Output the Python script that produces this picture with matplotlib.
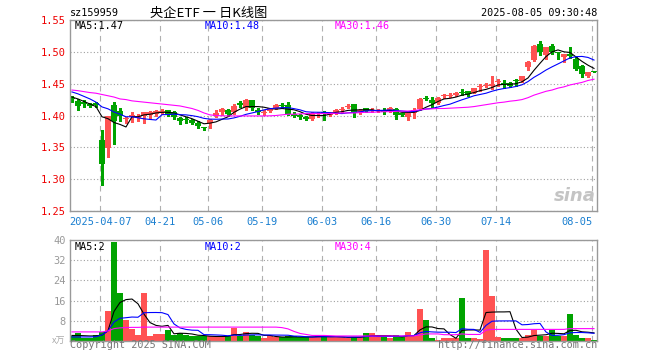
import numpy as np
import matplotlib
matplotlib.use('Agg')
import matplotlib.pyplot as plt

# 央企ETF (sz159959) daily K line, 2025-03-28 .. 2025-08-05 (88 trading days)
opens = [1.428, 1.423, 1.421, 1.418, 1.419, 1.361, 1.349, 1.417, 1.407, 1.394,
         1.397, 1.396, 1.3995, 1.401, 1.402, 1.405, 1.408, 1.405, 1.396, 1.394,
         1.3925, 1.389, 1.381, 1.388, 1.3995, 1.406, 1.409, 1.406, 1.420, 1.412,
         1.424, 1.409, 1.404, 1.407, 1.412, 1.4165, 1.416, 1.403, 1.400, 1.398,
         1.395, 1.403, 1.405, 1.401, 1.404, 1.409, 1.414, 1.4177, 1.405, 1.411,
         1.407, 1.407, 1.409, 1.409, 1.410, 1.4035, 1.397, 1.404, 1.410, 1.4275,
         1.4244, 1.420, 1.430, 1.431, 1.432, 1.436, 1.4384, 1.436, 1.445, 1.446,
         1.446, 1.452, 1.450, 1.4516, 1.4563, 1.454, 1.4766, 1.4878, 1.5125, 1.4958,
         1.5088, 1.499, 1.4916, 1.497, 1.4895, 1.4775, 1.462, 1.4695]
highs = [1.431, 1.4255, 1.424, 1.419, 1.421, 1.378, 1.400, 1.421, 1.411, 1.398,
         1.405, 1.403, 1.406, 1.407, 1.408, 1.410, 1.409, 1.407, 1.398, 1.398,
         1.395, 1.391, 1.382, 1.394, 1.408, 1.411, 1.410, 1.418, 1.422, 1.426,
         1.425, 1.411, 1.409, 1.412, 1.418, 1.420, 1.421, 1.405, 1.402, 1.400,
         1.406, 1.406, 1.407, 1.406, 1.410, 1.414, 1.418, 1.418, 1.410, 1.412,
         1.411, 1.410, 1.411, 1.413, 1.411, 1.404, 1.405, 1.411, 1.427, 1.430,
         1.429, 1.429, 1.434, 1.435, 1.437, 1.441, 1.439, 1.443, 1.449, 1.451,
         1.462, 1.457, 1.455, 1.453, 1.457, 1.462, 1.485, 1.510, 1.5166, 1.508,
         1.5119, 1.500, 1.497, 1.507, 1.492, 1.479, 1.469, 1.4695]
lows = [1.421, 1.409, 1.414, 1.414, 1.413, 1.291, 1.335, 1.356, 1.3916, 1.388,
        1.390, 1.392, 1.389, 1.394, 1.400, 1.403, 1.400, 1.395, 1.387, 1.388,
        1.387, 1.381, 1.378, 1.380, 1.397, 1.401, 1.400, 1.403, 1.413, 1.409,
        1.408, 1.403, 1.401, 1.405, 1.410, 1.411, 1.401, 1.397, 1.395, 1.393,
        1.393, 1.397, 1.393, 1.399, 1.402, 1.405, 1.411, 1.398, 1.403, 1.405,
        1.405, 1.405, 1.402, 1.406, 1.394, 1.400, 1.393, 1.396, 1.409, 1.424,
        1.413, 1.418, 1.427, 1.429, 1.431, 1.432, 1.431, 1.435, 1.438, 1.444,
        1.441, 1.446, 1.443, 1.444, 1.446, 1.453, 1.471, 1.486, 1.4947, 1.488,
        1.4963, 1.488, 1.4844, 1.490, 1.471, 1.460, 1.461, 1.469]
closes = [1.426, 1.415, 1.418, 1.415, 1.416, 1.324, 1.399, 1.392, 1.400, 1.396,
          1.401, 1.400, 1.406, 1.405, 1.407, 1.407, 1.401, 1.398, 1.392, 1.393,
          1.389, 1.383, 1.380, 1.393, 1.4045, 1.410, 1.402, 1.415, 1.417, 1.424,
          1.411, 1.405, 1.406, 1.411, 1.416, 1.4155, 1.403, 1.399, 1.398, 1.394,
          1.404, 1.404, 1.402, 1.405, 1.408, 1.410, 1.415, 1.4047, 1.408, 1.407,
          1.409, 1.408, 1.406, 1.411, 1.401, 1.401, 1.404, 1.409, 1.4266, 1.4266,
          1.419, 1.428, 1.431, 1.432, 1.436, 1.435, 1.4333, 1.4427, 1.446, 1.447,
          1.450, 1.4525, 1.449, 1.446, 1.454, 1.4614, 1.4844, 1.5098, 1.500, 1.507,
          1.500, 1.498, 1.4969, 1.493, 1.4734, 1.4656, 1.468, 1.469]

ma5 = [1.429, 1.426, 1.422, 1.418, 1.414, 1.398, 1.395, 1.389, 1.386, 1.382,
       1.398, 1.398, 1.401, 1.402, 1.404, 1.405, 1.405, 1.404, 1.401, 1.398,
       1.395, 1.391, 1.387, 1.388, 1.390, 1.394, 1.398, 1.405, 1.410, 1.414,
       1.414, 1.414, 1.413, 1.411, 1.410, 1.411, 1.410, 1.409, 1.406, 1.402,
       1.400, 1.400, 1.400, 1.402, 1.405, 1.406, 1.408, 1.4085, 1.409, 1.409,
       1.409, 1.407, 1.408, 1.408, 1.407, 1.405, 1.405, 1.405, 1.408, 1.413,
       1.417, 1.422, 1.426, 1.427, 1.429, 1.432, 1.4335, 1.436, 1.439, 1.441,
       1.444, 1.448, 1.449, 1.449, 1.450, 1.453, 1.459, 1.471, 1.482, 1.4925,
       1.500, 1.503, 1.500, 1.499, 1.492, 1.485, 1.479, 1.474]
ma10 = [1.437, 1.434, 1.430, 1.426, 1.421, 1.4135, 1.4105, 1.4055, 1.402, 1.398,
        1.398, 1.3964, 1.3948, 1.3938, 1.3929, 1.4013, 1.4015, 1.4021, 1.4013, 1.401,
        1.3998, 1.3981, 1.3955, 1.3943, 1.3941, 1.3944, 1.3945, 1.3962, 1.3987, 1.4018,
        1.404, 1.4062, 1.4088, 1.4106, 1.4117, 1.4123, 1.4124, 1.4108, 1.4089, 1.4059,
        1.4052, 1.4051, 1.405, 1.4044, 1.4036, 1.403, 1.4042, 1.4048, 1.4058, 1.4071,
        1.4076, 1.408, 1.4081, 1.4087, 1.408, 1.4071, 1.406, 1.4064, 1.4083, 1.4102,
        1.4112, 1.4133, 1.4157, 1.4178, 1.4213, 1.4247, 1.4277, 1.431, 1.433, 1.435,
        1.4381, 1.4406, 1.4424, 1.4438, 1.4456, 1.4482, 1.4533, 1.460, 1.4654, 1.4714,
        1.4764, 1.481, 1.4858, 1.4905, 1.4924, 1.4928, 1.4912, 1.4871]
ma30 = [1.440, 1.439, 1.4375, 1.436, 1.435, 1.433, 1.431, 1.429, 1.426, 1.425,
        1.423, 1.422, 1.421, 1.420, 1.419, 1.418, 1.417, 1.416, 1.415, 1.413,
        1.411, 1.408, 1.404, 1.401, 1.400, 1.3995, 1.3993, 1.3993, 1.3993, 1.3993,
        1.3993, 1.3993, 1.3993, 1.3995, 1.400, 1.401, 1.402, 1.402, 1.4025, 1.403,
        1.403, 1.403, 1.403, 1.403, 1.4035, 1.404, 1.404, 1.404, 1.4045, 1.405,
        1.405, 1.4055, 1.406, 1.406, 1.4065, 1.407, 1.407, 1.408, 1.409, 1.410,
        1.4105, 1.411, 1.411, 1.4115, 1.412, 1.4125, 1.413, 1.414, 1.4155, 1.417,
        1.4185, 1.420, 1.421, 1.4225, 1.4235, 1.425, 1.428, 1.432, 1.435, 1.438,
        1.440, 1.443, 1.445, 1.448, 1.450, 1.452, 1.455, 1.457]

# volume (x万)
volumes = [2.0, 3.3, 1.2, 1.2, 2.5, 3.6, 11.9, 39.3, 18.9, 8.3,
           4.7, 2.5, 18.9, 2.1, 2.7, 2.9, 4.3, 2.3, 3.2, 2.3,
           1.8, 1.8, 1.8, 1.8, 1.8, 1.8, 2.1, 5.2, 1.9, 3.6,
           2.5, 1.9, 1.3, 1.8, 1.4, 1.5, 1.8, 1.8, 1.5, 1.4,
           1.5, 2.5, 1.8, 1.5, 1.5, 1.5, 1.3, 1.5, 1.5, 3.3,
           3.0, 1.5, 1.5, 1.2, 2.5, 1.5, 3.7, 1.8, 12.5, 8.5,
           1.3, 0.5, 1.2, 1.2, 1.2, 16.9, 1.3, 1.3, 0.9, 36.0,
           17.7, 1.7, 1.3, 1.3, 1.3, 1.3, 2.5, 4.4, 2.1, 2.1,
           4.3, 2.1, 1.8, 10.5, 2.5, 1.3, 1.3, 0.5]
vma5 = [2.2, 2.2, 2.1, 2.0, 2.04, 2.36, 4.08, 11.7, 15.24, 16.4,
        16.62, 14.74, 10.66, 7.3, 6.18, 5.82, 6.18, 2.86, 3.08, 3.0,
        2.78, 2.28, 2.18, 1.9, 1.8, 1.8, 1.86, 2.54, 2.56, 2.92,
        3.06, 3.02, 2.24, 2.2, 1.78, 1.58, 1.56, 1.66, 1.6, 1.6,
        1.6, 1.74, 1.74, 1.74, 1.76, 1.66, 1.42, 1.46, 1.46, 1.82,
        2.16, 2.16, 2.16, 2.1, 1.94, 1.64, 2.08, 2.14, 4.4, 5.6,
        5.56, 4.92, 4.8, 2.54, 1.08, 4.2, 4.36, 4.38, 4.32, 11.28,
        11.44, 11.52, 11.52, 11.6, 4.66, 1.38, 1.54, 2.16, 2.32, 2.48,
        3.08, 3.0, 2.86, 4.16, 4.24, 3.64, 3.48, 3.22]
vma10 = [1.6, 1.6, 1.6, 1.6, 1.7, 2.4, 4.0, 7.5, 9.0, 9.22,
         9.49, 9.41, 11.18, 11.27, 11.29, 11.22, 10.46, 6.76, 5.19, 4.59,
         4.3, 4.23, 2.52, 2.49, 2.4, 2.29, 2.07, 2.36, 2.23, 2.36,
         2.43, 2.44, 2.39, 2.38, 2.35, 2.32, 2.29, 1.95, 1.9, 1.69,
         1.59, 1.65, 1.7, 1.67, 1.68, 1.63, 1.58, 1.6, 1.6, 1.79,
         1.91, 1.79, 1.81, 1.78, 1.88, 1.9, 2.12, 2.15, 3.25, 3.77,
         3.6, 3.5, 3.47, 3.47, 3.34, 4.88, 4.64, 4.59, 3.43, 6.18,
         7.82, 7.94, 7.95, 7.96, 7.97, 6.41, 6.53, 6.84, 6.96, 3.57,
         2.23, 2.27, 2.51, 3.24, 3.36, 3.36, 3.24, 3.04]
vma30 = [3.6, 3.6, 3.6, 3.6, 3.6, 3.6, 4.0, 4.9, 5.2, 5.3,
         5.4, 5.4, 5.5, 5.5, 5.5, 5.5, 5.5, 5.5, 5.5, 5.5,
         5.5, 5.5, 5.5, 5.5, 5.5, 5.5, 5.5, 5.5, 5.5, 5.5,
         5.5, 5.5, 5.5, 5.5, 5.5, 5.3, 4.8, 3.8, 3.0, 2.6,
         2.2, 2.2, 2.2, 2.1, 2.0, 2.0, 2.0, 2.0, 2.0, 2.0,
         2.0, 2.0, 2.0, 2.0, 2.0, 2.0, 2.0, 2.0, 2.4, 2.8,
         2.8, 2.8, 2.5, 2.5, 2.5, 2.8, 2.6, 2.6, 2.6, 4.3,
         4.6, 4.6, 4.6, 4.6, 4.6, 4.6, 4.6, 4.6, 4.6, 4.6,
         4.6, 4.6, 4.6, 4.9, 4.9, 4.9, 4.9, 4.9]

tick_idx = [5, 15, 23, 32, 42, 51, 61, 71, 87]
tick_labels = ['2025-04-07', '04-21', '05-06', '05-19', '06-03', '06-16', '06-30', '07-14', '08-05']
price_ticks = [1.25, 1.30, 1.35, 1.40, 1.45, 1.50, 1.55]
vol_ticks = [8, 16, 24, 32, 40]

RED = '#ff5252'
GREEN = '#00a300'
MONO = 'DejaVu Sans Mono'
CJK = ['Noto Sans CJK SC', 'DejaVu Sans']

W, H = 660, 360
fig = plt.figure(figsize=(W / 100, H / 100), dpi=100)
fig.patch.set_facecolor('white')


def px_axes(l, t, r, b):
    return fig.add_axes([l / W, 1 - b / H, (r - l) / W, (b - t) / H])


def ftext(x, y, s, **kw):
    kw.setdefault('va', 'center')
    kw.setdefault('family', MONO)
    kw.setdefault('fontsize', 7.3)
    fig.text(x / W, 1 - y / H, s, **kw)


ax = px_axes(70, 20, 597, 211)
axv = px_axes(70, 240, 597, 341)

x = np.arange(len(closes))
o, h, l, c = (np.array(a) for a in (opens, highs, lows, closes))
colors = np.where(c > o, RED, GREEN)

# candles: wick + filled body
ax.vlines(x, l, h, colors=colors, lw=0.75, zorder=2, antialiased=False)
body = np.maximum(np.abs(c - o), 0.0016)
ax.bar(x, body, width=0.84, bottom=np.minimum(o, c), color=colors,
       linewidth=0, zorder=2, antialiased=False)
ax.plot(x, ma5, color='black', lw=0.8, zorder=3)
ax.plot(x, ma10, color='#0000ff', lw=0.8, zorder=3)
ax.plot(x, ma30, color='#ff00ff', lw=0.8, zorder=3)

# volume
axv.bar(x, volumes, width=0.84, color=colors, linewidth=0, zorder=2, antialiased=False)
axv.plot(x, vma5, color='black', lw=0.8, zorder=3)
axv.plot(x, vma10, color='#0000ff', lw=0.8, zorder=3)
axv.plot(x, vma30, color='#ff00ff', lw=0.8, zorder=3)

grid_x = [i - 0.3 for i in tick_idx]
for a in (ax, axv):
    a.set_xlim(-0.33, len(closes) - 0.5)
    a.set_xticks(grid_x)
    a.xaxis.grid(True, ls=(0, (5, 4)), color='#b0b0b0', lw=0.8)
    a.yaxis.grid(True, ls=(0, (1, 2)), color='#a0a0a0', lw=0.8)
    a.set_axisbelow(True)
    a.tick_params(length=0)
    for sp in a.spines.values():
        sp.set_color('#999999')
        sp.set_linewidth(1)

ax.set_ylim(1.25, 1.55)
ax.set_yticks(price_ticks)
ax.set_yticklabels([f'{v:.2f}' for v in price_ticks], color='#ee0000', family=MONO, fontsize=7.5)
ax.tick_params(axis='y', pad=3)
ax.set_xticklabels(tick_labels, color='#1a7fd0', family=MONO, fontsize=7.5)
ax.tick_params(axis='x', pad=4)
ax.get_xticklabels()[-1].set_horizontalalignment('right')

axv.set_ylim(0, 40)
axv.set_yticks(vol_ticks)
axv.set_yticklabels([str(v) for v in vol_ticks], color='#999999', family=MONO, fontsize=7.5)
axv.tick_params(axis='y', pad=3)
axv.set_xticklabels([])

# header
ftext(70, 13, 'sz159959', ha='left')
ftext(209, 13, '央企ETF 一 日K线图', ha='center', family=CJK, fontsize=9.5)
ftext(597, 13, '2025-08-05 09:30:48', ha='right')

# MA legends
ftext(75, 26, 'MA5:1.47', ha='left', color='black')
ftext(205, 26, 'MA10:1.48', ha='left', color='#0000ff')
ftext(335, 26, 'MA30:1.46', ha='left', color='#ff00ff')
ftext(75, 247, 'MA5:2', ha='left', color='black')
ftext(205, 247, 'MA10:2', ha='left', color='#0000ff')
ftext(335, 247, 'MA30:4', ha='left', color='#ff00ff')

# watermark and footer
ftext(596, 196, 'sina', ha='right', family='DejaVu Sans', fontsize=13,
      fontweight='bold', style='italic', color='#c4c4c4')
ftext(65, 341, 'x万', ha='right', family=CJK, fontsize=6.5, color='#aaaaaa')
ftext(70, 345, 'Copyright 2025 SINA.COM', ha='left', color='#777777')
ftext(597, 345, 'http://finance.sina.com.cn', ha='right', color='#777777')

fig.savefig('out.png', dpi=100, facecolor='white')
